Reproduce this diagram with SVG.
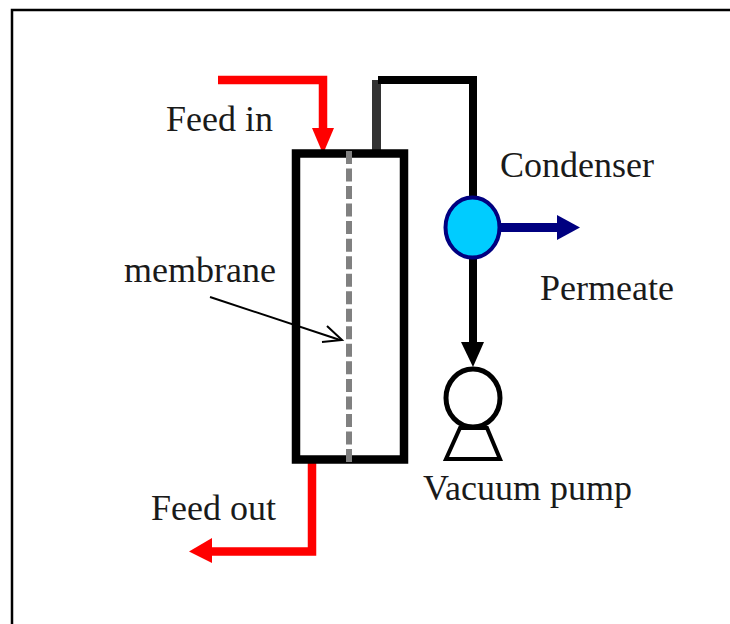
<svg xmlns="http://www.w3.org/2000/svg" width="730" height="624" viewBox="0 0 730 624">
<style>
text{font-family:"Liberation Serif","Times New Roman",serif;font-size:36px;fill:#1a1a1a}
.red{fill:none;stroke:#ff0000;stroke-width:8.5;stroke-linejoin:miter}
.blk{fill:none;stroke:#000;stroke-width:8}
</style>
<rect width="730" height="624" fill="#fff"/>
<path id="frame" d="M12 624V10H730" fill="none" stroke="#000" stroke-width="2.5"/>
<g id="connectors">
<path class="red" d="M218 80H323V130"/>
<polygon points="312,128 334,128 323,154" fill="#f00"/>
<path d="M376.500 157V80" fill="none" stroke="#333" stroke-width="9"/>
<path class="blk" d="M378 80H473V202"/>
<path class="blk" d="M473 258V344"/>
<polygon points="461,342 484,342 473,367" fill="#000"/>
<path d="M500 227.500H559" fill="none" stroke="#000080" stroke-width="9"/>
<polygon points="557,215 580,227.500 557,240" fill="#000080"/>
<path class="red" d="M312 457V551.500H210"/>
<polygon points="212,538 212,563 189,551.500" fill="#f00"/>
<path d="M210 297L340 340" fill="none" stroke="#000" stroke-width="2"/>
<path d="M327 326L342 340L322 342" fill="none" stroke="#000" stroke-width="2"/>
</g>
<g id="membrane-unit">
<rect x="296" y="153.500" width="108" height="306" fill="none" stroke="#000" stroke-width="8.500"/>
<path d="M349 151V462" fill="none" stroke="#808080" stroke-width="6" stroke-dasharray="13 4.530"/>
</g>
<g id="condenser"><ellipse cx="472.500" cy="227.500" rx="27" ry="30" fill="#00ccff" stroke="#000080" stroke-width="4"/></g>
<g id="vacuum-pump">
<ellipse cx="473" cy="398" rx="27" ry="29" fill="#fff" stroke="#000" stroke-width="5"/>
<polygon points="460,428 487,428 500,459 446,459" fill="#fff" stroke="#000" stroke-width="4"/>
</g>
<g id="labels">
<text x="166" y="131">Feed in</text>
<text x="500" y="177">Condenser</text>
<text x="124" y="282">membrane</text>
<text x="540" y="300">Permeate</text>
<text x="423" y="500">Vacuum pump</text>
<text x="151" y="520">Feed out</text>
</g>
</svg>
